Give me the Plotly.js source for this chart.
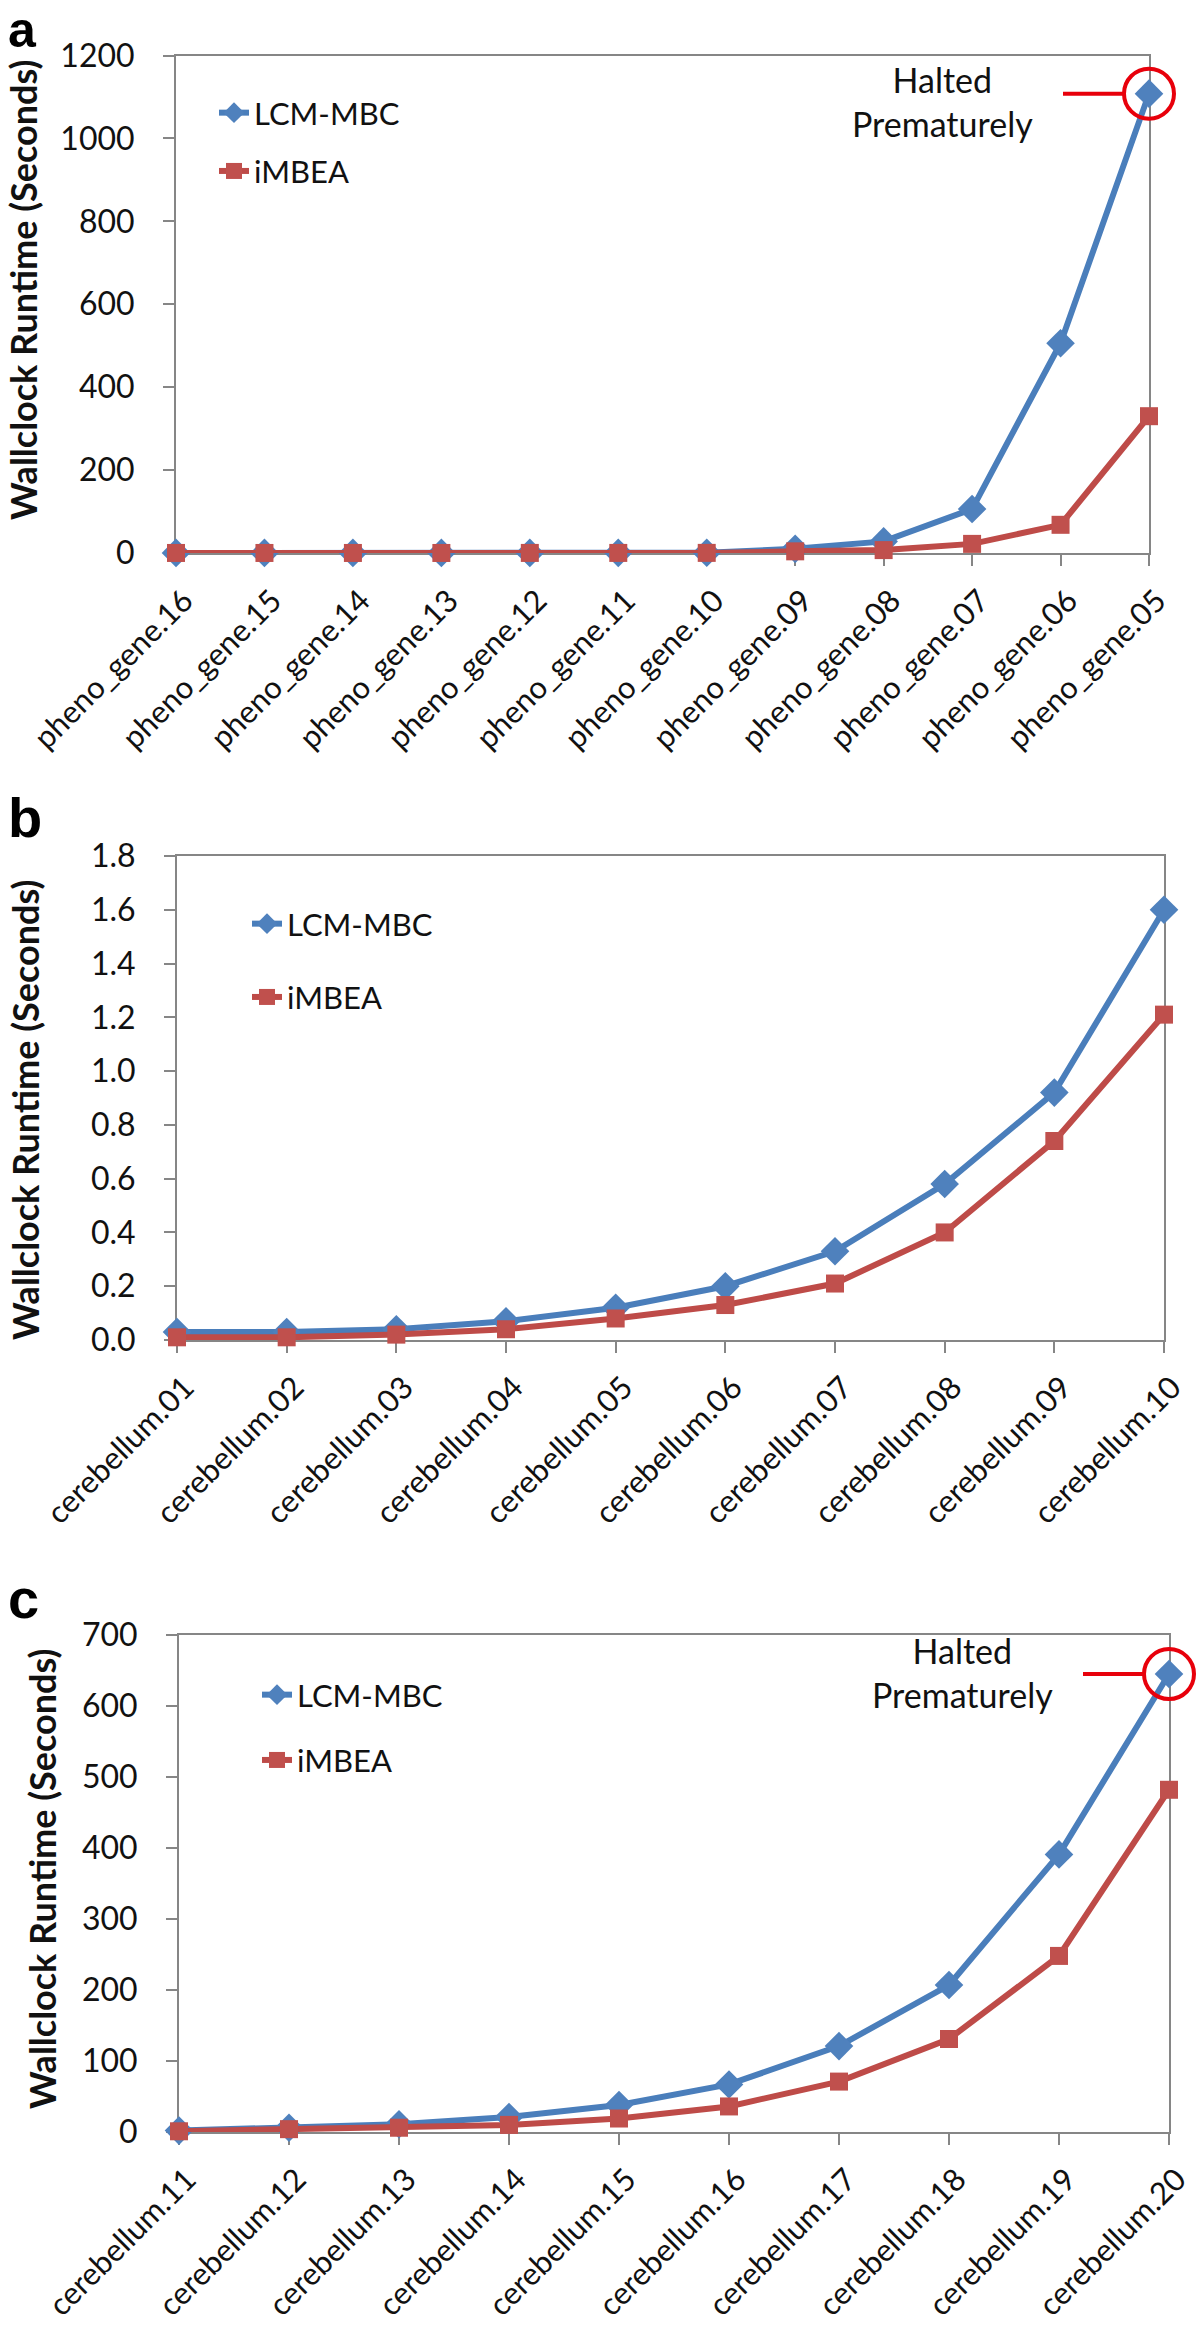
<!DOCTYPE html>
<html>
<head>
<meta charset="utf-8">
<script src="https://cdn.plot.ly/plotly-3.0.1.min.js"></script>
<style>
  html, body { margin: 0; padding: 0; background: #fff; }
  #chart { width: 1200px; height: 2334px; }
</style>
</head>
<body>
<div id="chart"></div>
<script>
// panel a: pheno_gene datasets
const phenoLabels = ['pheno_gene.16', 'pheno_gene.15', 'pheno_gene.14', 'pheno_gene.13',
  'pheno_gene.12', 'pheno_gene.11', 'pheno_gene.10', 'pheno_gene.09', 'pheno_gene.08',
  'pheno_gene.07', 'pheno_gene.06', 'pheno_gene.05'];
const phenoLcm = [0.2, 0.2, 0.2, 0.3, 0.3, 0.4, 0.6, 10, 28, 106, 506, 1108];
const phenoImbea = [0.1, 0.1, 0.1, 0.1, 0.2, 0.2, 0.3, 4, 7, 22, 68, 330];

// panel b: cerebellum.01 - .10
const cereLowLabels = ['cerebellum.01', 'cerebellum.02', 'cerebellum.03', 'cerebellum.04',
  'cerebellum.05', 'cerebellum.06', 'cerebellum.07', 'cerebellum.08', 'cerebellum.09', 'cerebellum.10'];
const cereLowLcm = [0.03, 0.03, 0.04, 0.07, 0.12, 0.20, 0.33, 0.58, 0.92, 1.60];
const cereLowImbea = [0.01, 0.01, 0.02, 0.04, 0.08, 0.13, 0.21, 0.40, 0.74, 1.21];

// panel c: cerebellum.11 - .20
const cereHighLabels = ['cerebellum.11', 'cerebellum.12', 'cerebellum.13', 'cerebellum.14',
  'cerebellum.15', 'cerebellum.16', 'cerebellum.17', 'cerebellum.18', 'cerebellum.19', 'cerebellum.20'];
const cereHighLcm = [2, 6, 11, 21, 38, 67, 121, 207, 391, 645];
const cereHighImbea = [1, 4, 6, 10, 19, 36, 71, 131, 248, 482];

const W = 1200, H = 2334;
const fx = p => p / W;
const fy = p => 1 - p / H;

const FONT = 'Lato, "Open Sans", sans-serif';
const AXIS = '#868686';
const BLUE_LINE = '#4A7EBB', BLUE_MARK = '#4F81BD';
const RED_LINE = '#BE4B48', RED_MARK = '#C0504D';
const HALT_RED = '#E8000B';

function series(x, y, name, n, legend, isLcm) {
  const suffix = n === 1 ? '' : String(n);
  return {
    x: x, y: y, name: name,
    xaxis: 'x' + suffix, yaxis: 'y' + suffix,
    legend: legend, legendgroup: name + n,
    type: 'scatter', mode: 'lines+markers', cliponaxis: false,
    line: {color: isLcm ? BLUE_LINE : RED_LINE, width: 6},
    marker: {
      symbol: isLcm ? 'diamond' : 'square',
      size: isLcm ? 22 : 18,
      color: isLcm ? BLUE_MARK : RED_MARK,
      line: {width: 0}
    }
  };
}

// open red ring drawn around the last point of a series
function haltRing(x, y, n) {
  const suffix = n === 1 ? '' : String(n);
  return {
    x: [x[x.length - 1]], y: [y[y.length - 1]],
    xaxis: 'x' + suffix, yaxis: 'y' + suffix,
    type: 'scatter', mode: 'markers', cliponaxis: false, showlegend: false, hoverinfo: 'skip',
    marker: {symbol: 'circle-open', size: 50, color: HALT_RED, line: {width: 4, color: HALT_RED}}
  };
}

const data = [
  series(phenoLabels, phenoLcm, 'LCM-MBC', 1, 'legend', true),
  series(phenoLabels, phenoImbea, 'iMBEA', 1, 'legend', false),
  series(cereLowLabels, cereLowLcm, 'LCM-MBC', 2, 'legend2', true),
  series(cereLowLabels, cereLowImbea, 'iMBEA', 2, 'legend2', false),
  series(cereHighLabels, cereHighLcm, 'LCM-MBC', 3, 'legend3', true),
  series(cereHighLabels, cereHighImbea, 'iMBEA', 3, 'legend3', false),
  haltRing(phenoLabels, phenoLcm, 1),
  haltRing(cereHighLabels, cereHighLcm, 3)
];

function xAxis(left, right, anchor, cats) {
  return {
    domain: [fx(left), fx(right)], anchor: anchor, type: 'category',
    range: [0, cats.length - 1], fixedrange: true, automargin: false,
    showline: true, linecolor: AXIS, linewidth: 2, mirror: true, layer: 'below traces',
    ticks: 'outside', ticklen: 11, tickwidth: 2, tickcolor: AXIS,
    tickangle: -45, ticklabelstandoff: 4, ticklabelshift: 8,
    tickfont: {family: FONT, size: 31, color: '#111'},
    showgrid: false, zeroline: false
  };
}

function yAxis(top, bottom, anchor, max, step, fmt) {
  return {
    domain: [fy(bottom), fy(top)], anchor: anchor, range: [0, max],
    tick0: 0, dtick: step, tickformat: fmt, fixedrange: true, automargin: false,
    showline: true, linecolor: AXIS, linewidth: 2, mirror: true, layer: 'below traces',
    ticks: 'outside', ticklen: 11, tickwidth: 2, tickcolor: AXIS, ticklabelstandoff: 22,
    tickfont: {family: FONT, size: 32, color: '#111'},
    showgrid: false, zeroline: false
  };
}

function legendAt(left, top, gap) {
  return {
    x: fx(left), y: fy(top), xanchor: 'left', yanchor: 'top',
    bgcolor: 'rgba(0,0,0,0)', borderwidth: 0, itemwidth: 30,
    traceorder: 'grouped', tracegroupgap: gap,
    font: {family: FONT, size: 31, color: '#111'}
  };
}

function yTitle(x, y) {
  return {
    xref: 'paper', yref: 'paper', x: fx(x), y: fy(y), textangle: -90,
    xanchor: 'center', yanchor: 'middle', showarrow: false,
    text: 'Wallclock Runtime (Seconds)',
    font: {family: FONT, size: 36, color: '#111', weight: 700}
  };
}

function panelLetter(letter, y, anchor, size) {
  return {
    xref: 'paper', yref: 'paper', x: fx(6), y: fy(y), xanchor: 'left', yanchor: anchor,
    showarrow: false, text: letter,
    font: {family: 'Arial, "Liberation Sans", sans-serif', size: size, color: '#000', weight: 700}
  };
}

function haltedNote(x, y) {
  return {
    xref: 'paper', yref: 'paper', x: fx(x), y: fy(y), xanchor: 'center', yanchor: 'middle',
    showarrow: false, align: 'center', text: 'Halted<br>Prematurely',
    font: {family: FONT, size: 34, color: '#111'}
  };
}

// short red pointer ending at the ring of the last point
function haltPointer(x, y, n) {
  const suffix = n === 1 ? '' : String(n);
  return {
    xref: 'x' + suffix, yref: 'y' + suffix,
    x: x[x.length - 1], y: y[y.length - 1],
    ax: -88, ay: 0, text: ' ', font: {size: 2},
    showarrow: true, arrowhead: 0, arrowwidth: 4, arrowcolor: HALT_RED, standoff: 25
  };
}

const layout = {
  width: W, height: H,
  margin: {l: 0, r: 0, t: 0, b: 0},
  paper_bgcolor: '#fff', plot_bgcolor: '#fff',
  showlegend: true,
  xaxis: xAxis(176, 1149, 'y', phenoLabels),
  yaxis: yAxis(55.5, 553, 'x', 1200, 200, 'd'),
  xaxis2: xAxis(177, 1164, 'y2', cereLowLabels),
  yaxis2: yAxis(856, 1340, 'x2', 1.8, 0.2, '.1f'),
  xaxis3: xAxis(179, 1169, 'y3', cereHighLabels),
  yaxis3: yAxis(1635, 2132, 'x3', 700, 100, 'd'),
  legend: legendAt(214, 86, 15),
  legend2: legendAt(247, 897, 30),
  legend3: legendAt(257, 1668, 22),
  annotations: [
    panelLetter('a', 0, 'top', 50), panelLetter('b', 818, 'middle', 56), panelLetter('c', 1598, 'middle', 56),
    yTitle(23, 290), yTitle(25, 1110), yTitle(42, 1879),
    haltedNote(942, 102), haltedNote(962, 1672),
    haltPointer(phenoLabels, phenoLcm, 1),
    haltPointer(cereHighLabels, cereHighLcm, 3)
  ]
};

Plotly.newPlot('chart', data, layout, {displayModeBar: false, staticPlot: true});
</script>
</body>
</html>
